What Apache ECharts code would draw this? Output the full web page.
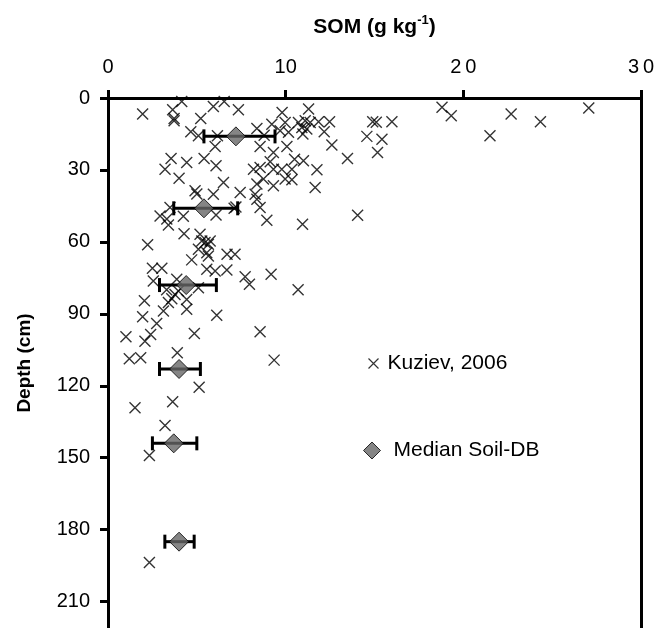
<!DOCTYPE html>
<html lang="en">
<head>
    <meta charset="UTF-8">
    <title>SOM by depth</title>
    <script src="https://cdn.jsdelivr.net/npm/echarts@6/dist/echarts.min.js"></script>
    <style>
        html, body { margin: 0; padding: 0; background: #fff; }
    </style>
</head>
<body>
<div id="main" style="width: 667px;height:628px;"></div>
<script type="text/javascript">
    // Kuziev, 2006: [SOM g/kg, depth cm]
    var kuzievSom = [1.95, 4.15, 3.64, 3.72, 3.72, 5.93, 6.54, 7.34, 5.22, 4.66, 5.09, 6.16, 6.03, 8.38, 8.79, 8.56,
        9.22, 9.8, 9.97, 9.69, 10.16, 9.31, 10.07, 9.13, 10.5, 3.55, 4.43, 5.41, 3.21, 6.08, 4.0, 8.19, 8.56, 9.31,
        9.78, 10.35, 6.5, 4.9, 5.0, 5.93, 7.44, 8.38, 8.75, 9.31, 9.97, 10.35, 11.29, 10.72, 11.1, 11.38, 11.85,
        12.47, 10.91, 11.19, 10.97, 12.17, 12.6, 13.48, 11.0, 11.76, 11.66, 14.9, 15.1, 15.98, 14.57, 15.42, 15.17,
        18.8, 19.32, 22.69, 24.34, 27.06, 21.5, 14.05,
        10.95, 8.94, 8.28, 8.38, 8.56, 2.23, 2.93, 3.31, 3.4, 3.49, 4.24, 6.08, 7.1, 7.2, 4.28, 5.18, 5.28, 5.46,
        5.75, 5.65, 5.09, 5.56, 5.65, 6.7, 7.15, 4.71, 2.5, 3.03, 5.56, 6.03, 6.69, 7.72, 7.96, 9.18, 10.7, 2.55,
        3.87, 5.09, 2.05, 3.3, 3.96, 3.77, 3.59, 3.4, 4.43, 3.12, 4.43, 6.12, 1.95, 2.74, 1.01, 2.08, 2.4, 4.86,
        8.56, 1.2, 1.84, 3.9, 9.35, 5.13, 3.64, 1.52, 3.21, 2.33, 2.33];
    var kuzievDepth = [6.7, 1.5, 4.9, 8.5, 9.5, 3.5, 1.5, 4.9, 8.5, 14.1, 15.7, 15.7, 20.2, 12.7, 15.5, 20.2,
        10.9, 6.0, 10.2, 13.7, 14.3, 22.7, 20.2, 26.6, 25.5, 25.2, 26.9, 25.2, 29.7, 28.3, 33.5, 29.7, 29, 29.7,
        29.7, 29.7, 35.2, 38.7, 40, 40.1, 39.4, 35.9, 33.8, 36.6, 33.8, 34.1, 4.6, 10.2, 9.5, 10.2, 9.9,
        9.9, 12.3, 12.9, 15, 14.1, 19.6, 25.2, 26.2, 29.9, 37.3, 9.9, 10.1, 9.9, 16, 17.2, 22.7,
        3.9, 7.4, 6.7, 9.9, 4.2, 15.7, 48.9,
        52.6, 51, 40.1, 42.2, 45.7, 61.2, 49.2, 50.5, 53, 45.7, 49.3, 48.8, 46, 45.5, 56.6, 56.8, 59.6, 60.3,
        59.6, 61, 63.1, 64.5, 65.9, 65.2, 65.2, 67.5, 71, 71, 71.4, 72.1, 71.7, 74.5, 77.7, 73.5, 80, 76.3,
        75.6, 79.1, 84.5, 80, 80.5, 81.9, 83.7, 85.3, 84, 88.8, 88.1, 90.6, 91.2, 94, 99.6, 101.4, 98.6, 98.2,
        97.5, 108.7, 108.3, 106.2, 109.3, 120.6, 126.7, 129.2, 136.6, 149.1, 193.7];

    // Median Soil-DB with range
    var medianDepth = [16, 46, 78, 113, 144, 185];
    var medianSom = [7.2, 5.4, 4.4, 4.0, 3.7, 4.0];
    var rangeLow = [5.4, 3.7, 2.9, 2.9, 2.5, 3.2];
    var rangeHigh = [9.4, 7.3, 6.1, 5.2, 5.0, 4.85];

    var font = 'Liberation Sans, Arial, sans-serif';
    var crossPath = 'path://M0,0L10,10M10,0L0,10';

    var myChart = echarts.init(document.getElementById('main'));

    var kuzievData = kuzievSom.map(function (v, i) { return [v, kuzievDepth[i]]; });
    var medianData = medianSom.map(function (v, i) { return [v, medianDepth[i]]; });
    var barData = medianDepth.map(function (d, i) { return [rangeLow[i], rangeHigh[i], d]; });

    var option = {
        animation: false,
        backgroundColor: '#fff',
        grid: { left: 108, right: 26, top: 98, bottom: 0 },
        legend: [{
            orient: 'vertical',
            left: 361,
            top: 348,
            itemWidth: 10,
            itemHeight: 10,
            textStyle: { fontFamily: font, fontSize: 21, color: '#000', padding: [0, 0, 0, 4] },
            data: [{ name: 'Kuziev, 2006', icon: crossPath,
                itemStyle: { color: 'none', borderColor: '#000', borderWidth: 1.2 } }]
        }, {
            orient: 'vertical',
            left: 358,
            top: 435,
            itemWidth: 17,
            itemHeight: 17,
            textStyle: { fontFamily: font, fontSize: 21, color: '#000', padding: [0, 0, 0, 8] },
            data: [{ name: 'Median Soil-DB', icon: 'diamond',
                itemStyle: { color: '#666', borderColor: '#000', borderWidth: 1 } }]
        }],
        xAxis: {
            type: 'value',
            position: 'top',
            min: 0,
            max: 30,
            interval: 10,
            name: '{b|SOM (g kg}{s|-1}{b|)}',
            nameLocation: 'middle',
            nameGap: 58,
            nameTextStyle: {
                rich: {
                    b: { fontFamily: font, fontWeight: 'bold', fontSize: 21, color: '#000', lineHeight: 26 },
                    s: { fontFamily: font, fontWeight: 'bold', fontSize: 13, color: '#000', verticalAlign: 'top', lineHeight: 14 }
                }
            },
            axisLine: { lineStyle: { color: '#000', width: 3 } },
            axisTick: { length: 8, lineStyle: { color: '#000', width: 3 } },
            axisLabel: {
                margin: 21, fontFamily: font, fontSize: 20, color: '#000',
                formatter: function (v) { return v >= 20 ? String(v).split('').join('\u2009') : String(v); }
            },
            splitLine: { show: false }
        },
        yAxis: [{
            type: 'value',
            inverse: true,
            min: 0,
            max: 221,
            interval: 30,
            name: 'Depth (cm)',
            nameLocation: 'middle',
            nameGap: 74,
            nameTextStyle: { fontFamily: font, fontWeight: 'bold', fontSize: 19, color: '#000' },
            axisLine: { lineStyle: { color: '#000', width: 3 } },
            axisTick: { length: 8, lineStyle: { color: '#000', width: 3 } },
            axisLabel: { margin: 18, fontFamily: font, fontSize: 20, color: '#000', showMaxLabel: false },
            splitLine: { show: false }
        }, {
            type: 'value',
            position: 'right',
            inverse: true,
            min: 0,
            max: 221,
            axisLine: { show: true, onZero: false, lineStyle: { color: '#000', width: 3 } },
            axisTick: { show: false },
            axisLabel: { show: false },
            splitLine: { show: false }
        }],
        series: [
            {
                name: 'Kuziev, 2006',
                type: 'scatter',
                symbol: crossPath,
                symbolSize: 11,
                itemStyle: { color: 'none', borderColor: '#000', borderWidth: 1.4 },
                data: kuzievData,
                z: 2
            },
            {
                name: 'range',
                type: 'custom',
                renderItem: function (params, api) {
                    var lo = api.coord([api.value(0), api.value(2)]);
                    var hi = api.coord([api.value(1), api.value(2)]);
                    var h = 7;
                    var st = { stroke: '#000', lineWidth: 3 };
                    return {
                        type: 'group',
                        children: [
                            { type: 'line', shape: { x1: lo[0], y1: lo[1], x2: hi[0], y2: hi[1] }, style: st },
                            { type: 'line', shape: { x1: lo[0], y1: lo[1] - h, x2: lo[0], y2: lo[1] + h }, style: st },
                            { type: 'line', shape: { x1: hi[0], y1: hi[1] - h, x2: hi[0], y2: hi[1] + h }, style: st }
                        ]
                    };
                },
                encode: { x: [0, 1], y: 2 },
                data: barData,
                z: 3
            },
            {
                name: 'Median Soil-DB',
                type: 'scatter',
                symbol: 'diamond',
                symbolSize: 19,
                itemStyle: { color: '#666', borderColor: '#000', borderWidth: 1 },
                data: medianData,
                z: 4
            }
        ]
    };

    myChart.setOption(option);
</script>
</body>
</html>
